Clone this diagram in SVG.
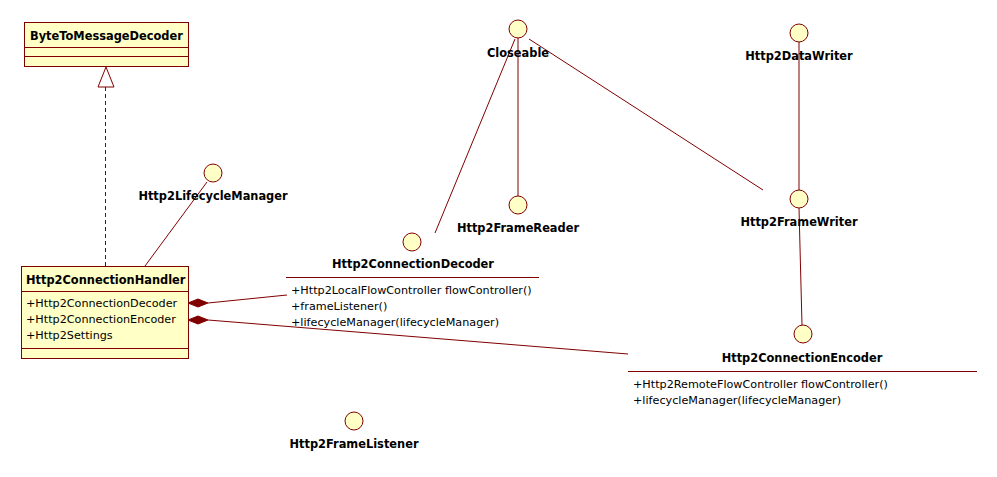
<svg xmlns="http://www.w3.org/2000/svg" width="997" height="477" viewBox="0 0 997 477">
<style>
.box{fill:#FFFFC6;stroke:#800000;stroke-width:1}
.sep{stroke:#800000;stroke-width:1}
.iface{fill:#FFFFC6;stroke:#800000;stroke-width:1}
.ln{stroke:#800000;stroke-width:1;fill:none}
.t{font-family:"DejaVu Sans",Verdana,sans-serif;font-size:11.4px;font-weight:bold;fill:#000}
.tc{font-family:"DejaVu Sans",Verdana,sans-serif;font-size:11.4px;font-weight:bold;fill:#000;text-anchor:middle}
.m{font-family:"DejaVu Sans",Verdana,sans-serif;font-size:11.2px;fill:#000}
</style>
<rect width="997" height="477" fill="#fff"/>
<g id="connectors">
<line class="ln" x1="105.5" y1="87" x2="105.5" y2="266" stroke-dasharray="4,3"/>
<polygon points="106,67 98,87 114,87" fill="#fff" stroke="#800000"/>
<line class="ln" x1="207" y1="182" x2="145" y2="266"/>
<line class="ln" x1="208" y1="303" x2="287" y2="295"/>
<polygon points="188,303 198,299 208,303 198,307" fill="#800000" stroke="#800000"/>
<line class="ln" x1="208" y1="320" x2="628" y2="354"/>
<polygon points="188,320 198,316 208,320 198,324" fill="#800000" stroke="#800000"/>
<line class="ln" x1="515" y1="39" x2="435" y2="233"/>
<line class="ln" x1="518" y1="38" x2="518" y2="196"/>
<line class="ln" x1="529" y1="39" x2="763" y2="190"/>
<line class="ln" x1="799" y1="42" x2="799" y2="190"/>
<line class="ln" x1="799" y1="208" x2="802" y2="325"/>
</g>
<g id="ByteToMessageDecoder">
<rect class="box" x="24.5" y="22.5" width="164" height="44"/>
<line class="sep" x1="24.5" y1="47.5" x2="188.5" y2="47.5"/>
<line class="sep" x1="24.5" y1="56.5" x2="188.5" y2="56.5"/>
<text class="t" x="30" y="40">ByteToMessageDecoder</text>
</g>
<g id="Http2ConnectionHandler">
<rect class="box" x="21.5" y="266.5" width="167" height="92"/>
<line class="sep" x1="21.5" y1="291.5" x2="188.5" y2="291.5"/>
<line class="sep" x1="21.5" y1="348.5" x2="188.5" y2="348.5"/>
<text class="t" x="26" y="284">Http2ConnectionHandler</text>
<text class="m" x="26" y="307">+Http2ConnectionDecoder</text>
<text class="m" x="26" y="323">+Http2ConnectionEncoder</text>
<text class="m" x="26" y="339">+Http2Settings</text>
</g>
<g id="Http2LifecycleManager">
<circle class="iface" cx="213" cy="173" r="9"/>
<text class="tc" x="213" y="200">Http2LifecycleManager</text>
</g>
<g id="Closeable">
<circle class="iface" cx="518" cy="29" r="9"/>
<text class="tc" x="518" y="57">Closeable</text>
</g>
<g id="Http2FrameReader">
<circle class="iface" cx="518" cy="205" r="9"/>
<text class="tc" x="518" y="232">Http2FrameReader</text>
</g>
<g id="Http2DataWriter">
<circle class="iface" cx="799" cy="33" r="9"/>
<text class="tc" x="799" y="60">Http2DataWriter</text>
</g>
<g id="Http2FrameWriter">
<circle class="iface" cx="799" cy="199" r="9"/>
<text class="tc" x="799" y="226">Http2FrameWriter</text>
</g>
<g id="Http2ConnectionDecoder">
<circle class="iface" cx="412" cy="242" r="9"/>
<text class="tc" x="413" y="268">Http2ConnectionDecoder</text>
<line class="sep" x1="286" y1="277.5" x2="539" y2="277.5"/>
<text class="m" x="291" y="294">+Http2LocalFlowController flowController()</text>
<text class="m" x="291" y="310">+frameListener()</text>
<text class="m" x="291" y="326">+lifecycleManager(lifecycleManager)</text>
</g>
<g id="Http2ConnectionEncoder">
<circle class="iface" cx="803" cy="334" r="9"/>
<text class="tc" x="802" y="362">Http2ConnectionEncoder</text>
<line class="sep" x1="628" y1="371.5" x2="977" y2="371.5"/>
<text class="m" x="633" y="388">+Http2RemoteFlowController flowController()</text>
<text class="m" x="633" y="404">+lifecycleManager(lifecycleManager)</text>
</g>
<g id="Http2FrameListener">
<circle class="iface" cx="354" cy="421" r="9"/>
<text class="tc" x="354" y="448">Http2FrameListener</text>
</g>
</svg>
